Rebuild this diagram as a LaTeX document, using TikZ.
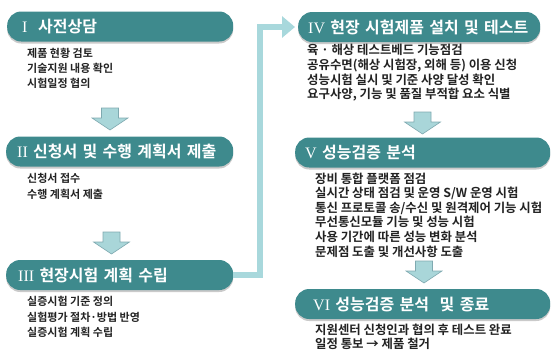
\documentclass[tikz,border=0pt]{standalone}
\usepackage{fontspec}
\newfontfamily\kr{Noto Sans CJK KR}[BoldFont={Noto Sans CJK KR Bold}]
\newfontfamily\rmn{Liberation Serif}
\usetikzlibrary{arrows.meta,shadows,calc}
\definecolor{pillc}{HTML}{3E8A8D}
\definecolor{connc}{HTML}{A8D8DC}
\definecolor{arrf}{HTML}{A9D6D9}
\definecolor{arrd}{HTML}{7FA9B0}
\definecolor{bodyc}{HTML}{222222}
\tikzset{
  pill/.style={fill=pillc, rounded corners=14pt, minimum height=30pt, anchor=west,
    text=white, font=\kr\bfseries\fontsize{16}{18}\selectfont, align=left,
    drop shadow={shadow xshift=0pt, shadow yshift=-2pt, opacity=0.35, fill=black!60}},
  bodyL/.style={anchor=west, align=left, inner sep=0pt, text=bodyc,
    font=\kr\bfseries\fontsize{11}{15.3}\selectfont},
  bodyR/.style={anchor=west, align=left, inner sep=0pt, text=bodyc,
    font=\kr\bfseries\fontsize{12.4}{14.6}\selectfont},
  blk/.style={fill=arrf, draw=arrd, line width=0.6pt, line join=miter},
  conn/.style={draw=connc, line width=6pt, -{Triangle[length=13pt,width=21pt]}, shorten >=3pt}
}
\begin{document}
\begin{tikzpicture}[x=1pt,y=-1pt]
\useasboundingbox (0,0) rectangle (554,349);
% header pills
\node[pill, text width=196pt, inner xsep=15pt] (I) at (7,26.5) {{\rmn\mdseries I}\ \ 사전상담};
\node[pill, text width=205pt, inner xsep=11pt] (II) at (6,151.5) {{\rmn\mdseries II} 신청서 및 수행 계획서 제출};
\node[pill, text width=203pt, inner xsep=12pt] (III) at (6,275) {{\rmn\mdseries III} 현장시험 계획 수립};
\node[pill, text width=222pt, inner xsep=10pt] (IV) at (298,27) {{\rmn\mdseries IV} 현장 시험제품 설치 및 테스트};
\node[pill, text width=235pt, inner xsep=10pt] (V) at (295,152.5) {{\rmn\mdseries V} 성능검증 분석};
\node[pill, text width=219pt, inner xsep=18pt] (VI) at (295,304) {{\rmn\mdseries VI} 성능검증 분석\ \ 및 종료};
% body texts
\node[bodyL] (tI) at (27,68.5) {제품 현황 검토\\기술지원 내용 확인\\시험일정 협의};
\node[bodyL] (tII) at (27,186.5) {신청서 접수\\수행 계획서 제출};
\node[bodyL] (tIII) at (27,317) {실증시험 기준 정의\\실험평가 절차·방법 반영\\실증시험 계획 수립};
\node[bodyR] (tIV) at (307,73) {육 · 해상 테스트베드 기능점검\\공유수면(해상 시험장, 외해 등) 이용 신청\\성능시험 실시 및 기준 사양 달성 확인\\요구사양, 기능 및 품질 부적합 요소 식별};
\node[bodyR] (tV) at (315,215) {장비 통합 플랫폼 점검\\실시간 상태 점검 및 운영 S/W 운영 시험\\통신 프로토콜 송/수신 및 원격제어 기능 시험\\무선통신모듈 기능 및 성능 시험\\사용 기간에 따른 성능 변화 분석\\문제점 도출 및 개선사항 도출};
\node[bodyR] (tVI) at (315,337) {지원센터 신청인과 협의 후 테스트 완료\\일정 통보 → 제품 철거};
% block arrows
\coordinate (a1) at (110,108);
\coordinate (a2) at (111.5,232);
\coordinate (a3) at (422.5,112);
\coordinate (a4) at (424,261);
\foreach \c in {a1,a2,a3,a4}{
  \draw[blk, shift={(\c)}] (-8.5,0) -- (8.5,0) -- (8.5,10) -- (18,10) -- (0,22) -- (-18,10) -- (-8.5,10) -- cycle;
}
% connector III -> IV
\draw[conn] (III.east) -- ++(27,0) |- (IV.west);
\end{tikzpicture}
\end{document}
